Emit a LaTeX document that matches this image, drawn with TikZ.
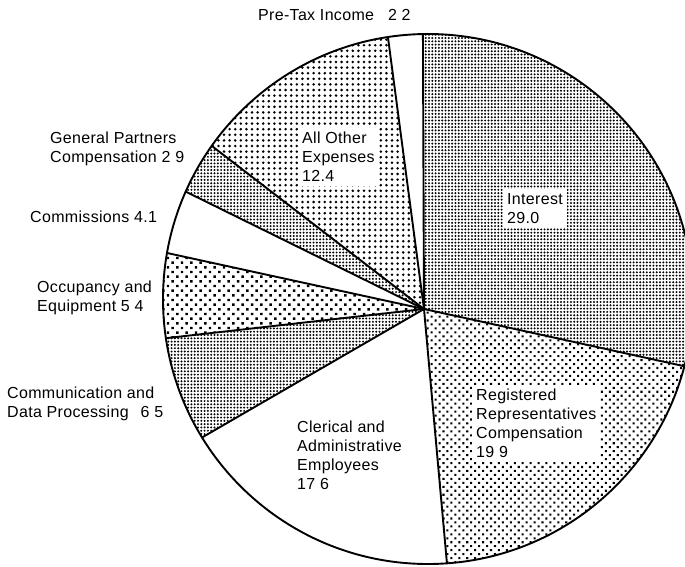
\documentclass[tikz,border=0pt]{standalone}
\usepackage{fontspec}
\setmainfont[LetterSpace=2]{Liberation Sans}
\usetikzlibrary{patterns.meta}
\newcommand\pieslice[3]{\fill[#3] (C) -- ([shift={(#1:\R)}]O) arc[start angle=#1,end angle=#2,radius=\R] -- cycle;}
\newcommand\piespoke[1]{\draw[edge] (C) -- ([shift={(#1:\R)}]O);}
\begin{document}
\begin{tikzpicture}[x=1pt,y=1pt,
  edge/.style={line width=1.9pt, line cap=round},
  finedots/.style={pattern={Dots[distance=3.3pt, radius=1.1pt]}},
  meddots/.style={pattern={Dots[distance=5.6pt, angle=45, radius=1.45pt]}},
  coarsedots/.style={pattern={Dots[distance=6.6pt, angle=45, radius=1.75pt]}},
  otherdots/.style={pattern={Dots[distance=5.6pt, radius=1.4pt]}},
  lbl/.style={anchor=north west, inner sep=0pt, align=left, font=\fontsize{16}{19}\selectfont},
  boxlbl/.style={lbl, fill=white, inner sep=4pt}]
\useasboundingbox (0,0) rectangle (685,566);
\def\R{265}
\coordinate (O) at (428,267);
\coordinate (C) at (424,257);
\begin{scope}
\clip (0,0) rectangle (685,566);
\pieslice{91.1}{-14.7}{finedots}
\pieslice{-14.7}{-85.9}{meddots}
\pieslice{-85.9}{-148.5}{white}
\pieslice{-148.5}{-171.5}{finedots}
\pieslice{-171.5}{-190}{coarsedots}
\pieslice{-190}{-203.9}{white}
\pieslice{-203.9}{-215.3}{finedots}
\pieslice{-215.3}{-261.3}{otherdots}
\pieslice{-261.3}{-268.9}{white}
\draw[edge] (O) circle[radius=\R];
\piespoke{91.1}
\piespoke{-14.7}
\piespoke{-85.9}
\piespoke{-148.5}
\piespoke{-171.5}
\piespoke{-190}
\piespoke{-203.9}
\piespoke{-215.3}
\piespoke{-261.3}
\end{scope}
\node[lbl] (pretax) at (258,557) {Pre-Tax Income\hspace{14pt}2 2};
\node[lbl] (general) at (50,434) {General Partners\\Compensation 2 9};
\node[lbl] (commissions) at (30,355) {Commissions 4.1};
\node[lbl] (occupancy) at (37,285) {Occupancy and\\Equipment 5 4};
\node[lbl] (communication) at (7,179) {Communication and\\Data Processing\hspace{12pt}6 5};
\node[boxlbl] (allother) at (298,438) {All Other\\Expenses\\12.4};
\node[boxlbl] (interest) at (503,377) {Interest\\29.0};
\node[boxlbl] (registered) at (472,181) {Registered\\Representatives\\Compensation\\19 9};
\node[lbl] (clerical) at (297,145) {Clerical and\\Administrative\\Employees\\17 6};
\end{tikzpicture}
\end{document}
